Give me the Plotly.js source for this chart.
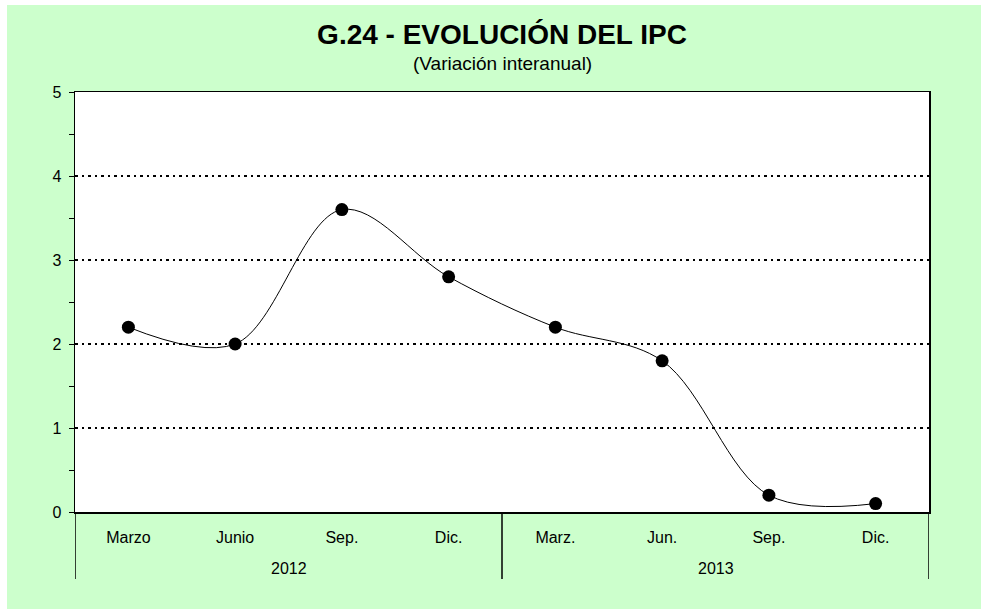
<!DOCTYPE html>
<html><head><meta charset="utf-8">
<script src="https://cdn.plot.ly/plotly-3.0.1.min.js"></script>
<style>html,body{margin:0;padding:0;background:#fff;}#chart{position:absolute;left:7px;top:5px;width:974px;height:604px;}</style>
</head><body><div id="chart"></div>
<script>
var years = ["2012","2012","2012","2012","2013","2013","2013","2013"];
var months = ["Marzo","Junio","Sep.","Dic.","Marz.","Jun.","Sep.","Dic."];
var ipc = [2.2, 2.0, 3.6, 2.8, 2.2, 1.8, 0.2, 0.1];

var FONT = "Liberation Sans, Arial, sans-serif";
var idx = months.map(function(m, i){ return i; });

// year groups: label centred under its months, dividers at group edges
var groups = [];
years.forEach(function(y, i){
  var g = groups[groups.length - 1];
  if (!g || g.year !== y) groups.push({year: y, first: i, last: i});
  else g.last = i;
});
var sepBottom = -(579 - 512) / 420;
var annotations = groups.map(function(g){
  return {text: g.year, x: (g.first + g.last) / 2, xref: "x", y: -(568 - 512) / 420, yref: "paper",
          xanchor: "center", yanchor: "middle", showarrow: false, font: {size: 16, family: FONT, color: "#000"}};
});
annotations.push({text: "(Variación interanual)", x: 0.5, xref: "paper", y: 1 + (87 - 58) / 420, yref: "paper",
                  xanchor: "center", yanchor: "middle", showarrow: false, font: {size: 19, family: FONT, color: "#000"}});
var edges = [groups[0].first - 0.5].concat(groups.map(function(g){ return g.last + 0.5; }));
var shapes = edges.map(function(e){
  return {type: "line", xref: "x", yref: "paper", x0: e, x1: e, y0: 0, y1: sepBottom,
          line: {color: "#000", width: 1.5}};
});

var trace = {
  x: idx,
  y: ipc,
  type: "scatter",
  mode: "lines+markers",
  line: {color: "#000", width: 1, shape: "spline", smoothing: 1},
  marker: {color: "#000", size: 13},
  cliponaxis: false,
  hoverinfo: "skip"
};
var layout = {
  width: 974, height: 604,
  paper_bgcolor: "#CCFFCC",
  plot_bgcolor: "#FFFFFF",
  margin: {l: 68, r: 52, t: 87, b: 97},
  showlegend: false,
  font: {family: FONT, color: "#000", size: 16},
  title: {text: "<b>G.24 - EVOLUCIÓN DEL IPC</b>",
          x: 0.5, xanchor: "center", xref: "paper", yref: "container", y: 0.968, yanchor: "top",
          font: {size: 28, family: FONT, color: "#000"}},
  xaxis: {
    range: [-0.5, months.length - 0.5],
    tickvals: idx, ticktext: months,
    showline: true, linecolor: "#000", linewidth: 1.5, mirror: true,
    showgrid: false, zeroline: false,
    ticks: "", ticklabelstandoff: 10, tickfont: {size: 16},
    fixedrange: true
  },
  yaxis: {
    range: [0, 5], dtick: 1, tick0: 0,
    showline: true, linecolor: "#000", linewidth: 1.5, mirror: true,
    ticks: "outside", ticklen: 5, tickwidth: 1, tickcolor: "#000",
    minor: {dtick: 0.5, ticks: "outside", ticklen: 5, tickwidth: 1, tickcolor: "#000", showgrid: false},
    showgrid: true, gridcolor: "#000", gridwidth: 2, griddash: "2.5px,4px",
    zeroline: false, tickfont: {size: 16}, ticklabelstandoff: 4,
    fixedrange: true
  },
  annotations: annotations,
  shapes: shapes
};
Plotly.newPlot("chart", [trace], layout, {displayModeBar: false, staticPlot: true});
</script></body></html>
